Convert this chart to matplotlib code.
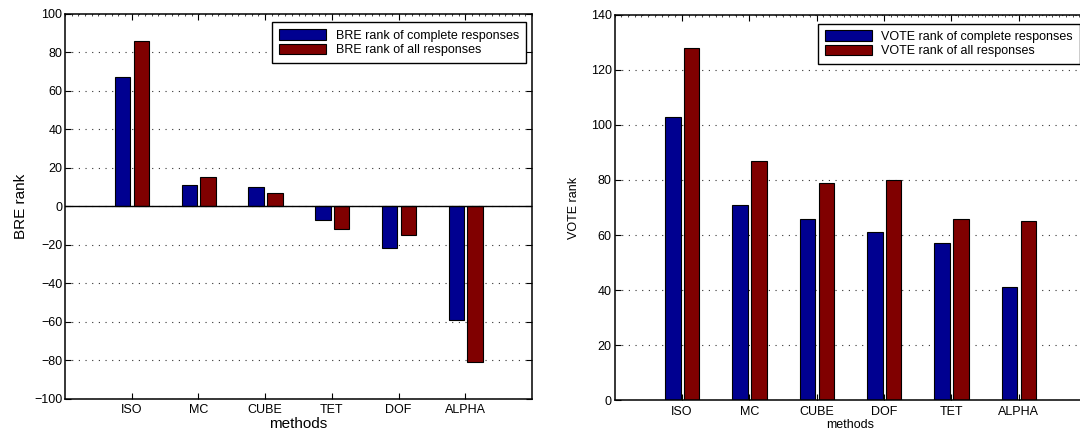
import matplotlib
matplotlib.use("Agg")
import matplotlib.pyplot as plt
import numpy as np
from matplotlib.ticker import MultipleLocator

plt.rcParams['font.family'] = ['Liberation Sans', 'DejaVu Sans']

# BRE rank (left panel)
bre_methods = ['ISO', 'MC', 'CUBE', 'TET', 'DOF', 'ALPHA']
bre_complete = [67, 11, 10, -7, -22, -59]
bre_all = [86, 15, 7, -12, -15, -81]

# VOTE rank (right panel)
vote_methods = ['ISO', 'MC', 'CUBE', 'DOF', 'TET', 'ALPHA']
vote_complete = [103, 71, 66, 61, 57, 41]
vote_all = [128, 87, 79, 80, 66, 65]

blue = '#000090'
red = '#800000'
width = 0.23

fig = plt.figure(figsize=(10.8, 4.32), dpi=100)
ax1 = fig.add_axes([0.0602, 0.0775, 0.4324, 0.891])
ax2 = fig.add_axes([0.569, 0.0734, 0.4366, 0.8926])


def style(ax, methods, tick_size, label_size):
    ind = np.arange(len(methods))
    ax.set_xlim(-1, 6)
    ax.set_xticks(ind)
    ax.set_xticklabels(methods, fontsize=tick_size)
    ax.xaxis.set_minor_locator(MultipleLocator(0.1))
    ax.tick_params(which='major', direction='in', top=True, right=True,
                   length=4, width=0.8, color='black')
    ax.tick_params(axis='x', which='major', pad=4)
    ax.tick_params(axis='y', which='major', pad=2, labelsize=9)
    ax.tick_params(axis='x', which='minor', direction='in', top=True,
                   bottom=False, length=1.5, width=0.5)
    ax.yaxis.grid(True, linestyle=(0, (1, 5)), color='#333333', linewidth=0.8)
    ax.set_axisbelow(True)
    for s in ax.spines.values():
        s.set_linewidth(1.1)
    ax.set_xlabel('methods', fontsize=label_size, labelpad=1)


def legend(ax):
    ax.legend(loc='upper right', bbox_to_anchor=(0.987, 0.977), fontsize=9,
              handlelength=3.8, handleheight=0.9, borderpad=0.55,
              labelspacing=0.15, handletextpad=0.75, fancybox=False,
              framealpha=1, edgecolor='black', borderaxespad=0)


ind = np.arange(len(bre_methods))
ax1.bar(ind - 0.25, bre_complete, width, align='edge', color=blue,
        edgecolor='black', linewidth=0.8, label='BRE rank of complete responses')
ax1.bar(ind + 0.03, bre_all, width, align='edge', color=red,
        edgecolor='black', linewidth=0.8, label='BRE rank of all responses')
ax1.axhline(0, color='black', linewidth=1)
ax1.set_ylim(-100, 100)
ax1.set_yticks(np.arange(-100, 101, 20))
style(ax1, bre_methods, 9, 11)
ax1.set_ylabel('BRE rank', fontsize=11, labelpad=4)
legend(ax1)

ind = np.arange(len(vote_methods))
ax2.bar(ind - 0.25, vote_complete, width, align='edge', color=blue,
        edgecolor='black', linewidth=0.8, label='VOTE rank of complete responses')
ax2.bar(ind + 0.03, vote_all, width, align='edge', color=red,
        edgecolor='black', linewidth=0.8, label='VOTE rank of all responses')
ax2.set_ylim(0, 140)
ax2.set_yticks(np.arange(0, 141, 20))
style(ax2, vote_methods, 9, 9)
ax2.set_ylabel('VOTE rank', fontsize=9, labelpad=8)
legend(ax2)

fig.savefig('out.png', dpi=100)
